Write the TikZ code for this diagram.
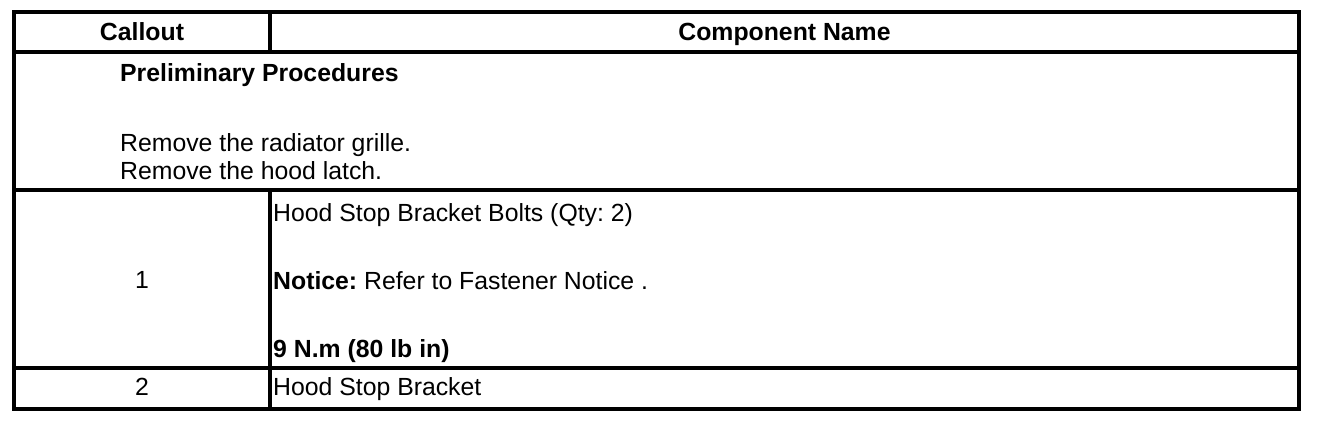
\documentclass[tikz,border=0pt]{standalone}
\usepackage{fontspec}
\setmainfont{Liberation Sans}
\begin{document}
\frenchspacing
\begin{tikzpicture}[x=1pt,y=-1pt,
  rule/.style={line width=4pt,line cap=rect},
  txt/.style={inner sep=0pt,font=\fontsize{24.8}{28}\selectfont\frenchspacing},
  lt/.style={txt,anchor=base west},
  ct/.style={txt,anchor=base}]
\useasboundingbox (0,0) rectangle (1328,424);
% table rules
\draw[rule] (14,12) rectangle (1299,408.5);
\draw[rule] (14,52) -- (1299,52);
\draw[rule] (14,190) -- (1299,190);
\draw[rule] (14,367.5) -- (1299,367.5);
\draw[rule] (270,12) -- (270,52);
\draw[rule] (270,190) -- (270,408.5);
% header
\node[ct] (hcall) at (142,40) {\bfseries Callout};
\node[ct] (hname) at (784.5,40) {\bfseries Component Name};
% preliminary
\node[lt] (prel) at (120,81) {\bfseries Preliminary Procedures};
\node[lt] (rem1) at (120,151) {Remove the radiator grille.};
\node[lt] (rem2) at (120,179) {Remove the hood latch.};
% row 1
\node[ct] (c1) at (142,288) {1};
\node[lt] (n1a) at (273,221) {Hood Stop Bracket Bolts (Qty: 2)};
\node[lt] (n1b) at (273,289) {\textbf{Notice:} Refer to Fastener Notice .};
\node[lt] (n1c) at (273,357) {\bfseries 9 N.m (80 lb in)};
% row 2
\node[ct] (c2) at (142,395) {2};
\node[lt] (n2) at (273,395) {Hood Stop Bracket};
\end{tikzpicture}
\end{document}
